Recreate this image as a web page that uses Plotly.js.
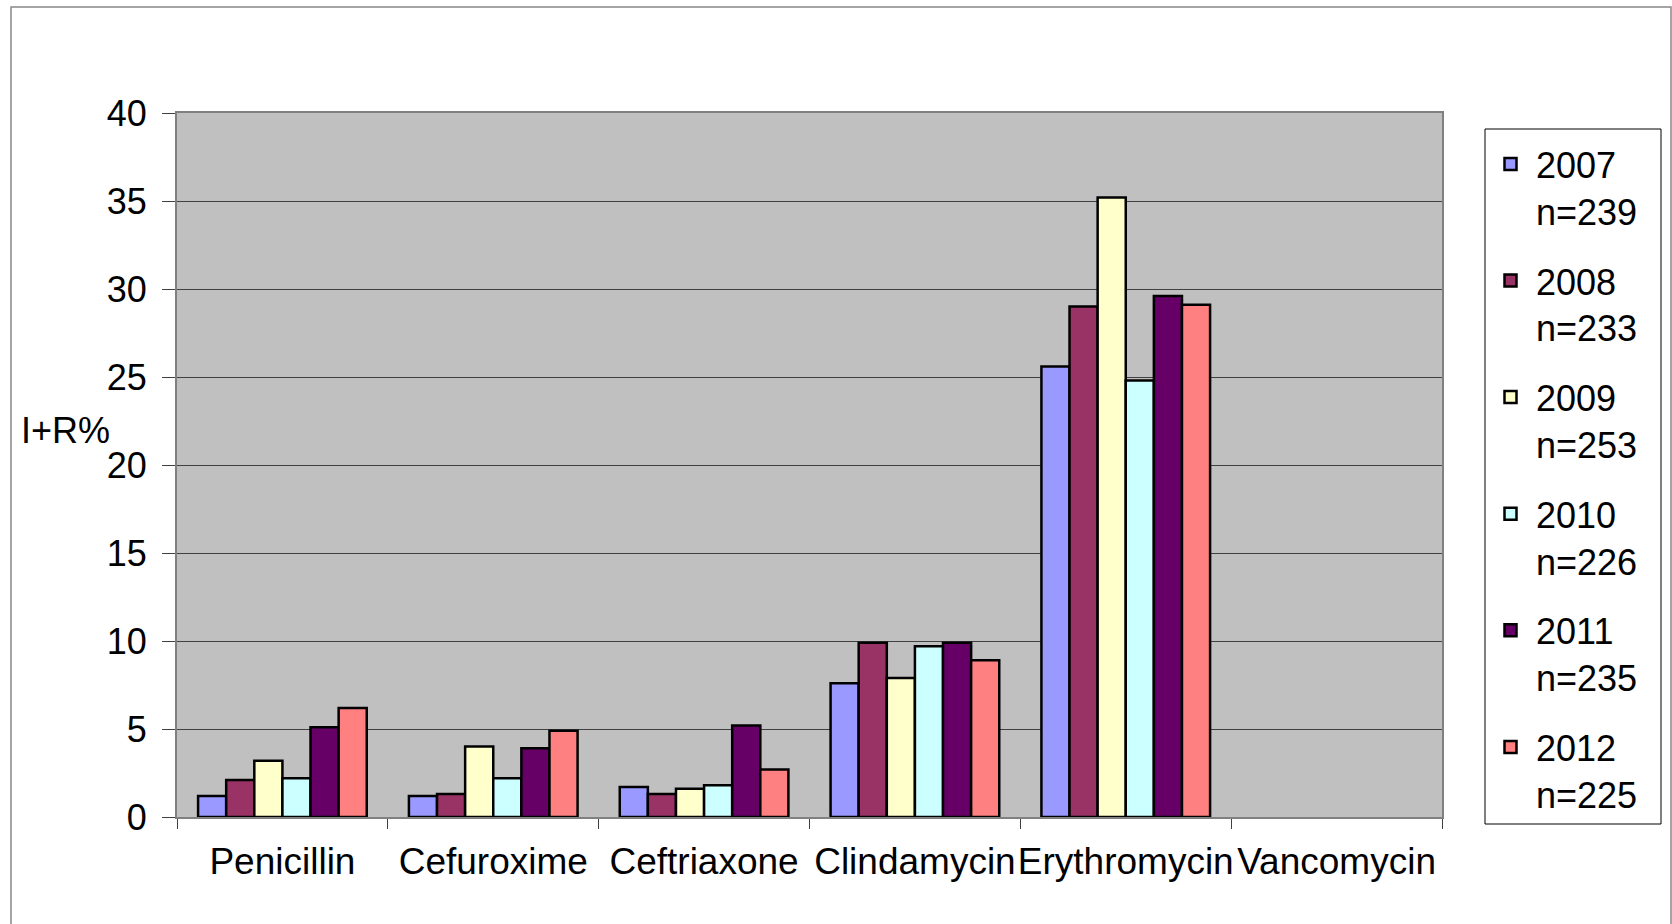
<!DOCTYPE html>
<html>
<head>
<meta charset="utf-8">
<script src="https://cdn.plot.ly/plotly-3.0.1.min.js"></script>
<style>
  html, body { margin: 0; padding: 0; background: #ffffff; }
  #chart { width: 1672px; height: 924px; }
</style>
</head>
<body>
<div id="chart"></div>
<script>
// Categories (antibiotics)
const categories = ["Penicillin", "Cefuroxime", "Ceftriaxone", "Clindamycin", "Erythromycin", "Vancomycin"];

// Series names (year + sample size)
const seriesNames = ["2007<br>n=239", "2008<br>n=233", "2009<br>n=253", "2010<br>n=226", "2011<br>n=235", "2012<br>n=225"];

// I+R% values per year
const y2007 = [1.2, 1.2, 1.7, 7.6, 25.6, 0];
const y2008 = [2.1, 1.3, 1.3, 9.9, 29.0, 0];
const y2009 = [3.2, 4.0, 1.6, 7.9, 35.2, 0];
const y2010 = [2.2, 2.2, 1.8, 9.7, 24.8, 0];
const y2011 = [5.1, 3.9, 5.2, 9.9, 29.6, 0];
const y2012 = [6.2, 4.9, 2.7, 8.9, 29.1, 0];

const seriesValues = [y2007, y2008, y2009, y2010, y2011, y2012];
const seriesColors = ["#9999FF", "#993366", "#FFFFCC", "#CCFFFF", "#660066", "#FF8080"];

// Y axis ticks
const yTicks = [0, 5, 10, 15, 20, 25, 30, 35, 40];

const FONT = "Liberation Sans, Arial, sans-serif";

const traces = seriesValues.map((vals, i) => ({
  type: "bar",
  name: seriesNames[i],
  x: categories,
  y: vals,
  legendgroup: "g" + i,
  marker: {
    color: seriesColors[i],
    line: { color: "#000000", width: vals.map(v => (v > 0 ? 2.5 : 0)) }
  },
  hoverinfo: "x+y"
}));

const L = 177, R = 1442, T = 113, B = 817;
const W = 1672, H = 924;
const pw = R - L, ph = B - T;
const px = v => (v - L) / pw;
const py = v => (B - v) / ph;

const layout = {
  width: W,
  height: H,
  margin: { l: L, r: W - R, t: T, b: H - B, pad: 0 },
  paper_bgcolor: "#ffffff",
  plot_bgcolor: "#C0C0C0",
  font: { family: FONT, size: 36, color: "#000000" },
  showlegend: true,
  barmode: "group",
  bargap: 0.2,
  bargroupgap: 0,
  xaxis: {
    type: "category",
    showgrid: false,
    tickson: "boundaries",
    ticks: "outside",
    ticklen: 10,
    tickwidth: 1,
    tickcolor: "#404040",
    tickangle: 0,
    showline: true,
    linecolor: "#808080",
    linewidth: 2,
    mirror: true,
    tickfont: { family: FONT, size: 37, color: "#000000" },
    ticklabelstandoff: 11,
    zeroline: false
  },
  yaxis: {
    range: [0, 40],
    tickvals: yTicks,
    ticktext: yTicks.map(String),
    showgrid: true,
    gridcolor: "#404040",
    gridwidth: 1,
    ticks: "outside",
    ticklen: 13,
    tickwidth: 1,
    tickcolor: "#404040",
    showline: true,
    linecolor: "#808080",
    linewidth: 2,
    mirror: true,
    zeroline: false,
    tickfont: { family: FONT, size: 36, color: "#000000" },
    ticklabelstandoff: 8
  },
  legend: {
    x: px(1485),
    y: py(134),
    xanchor: "left",
    yanchor: "top",
    bgcolor: "rgba(0,0,0,0)",
    borderwidth: 0,
    font: { family: FONT, size: 36, color: "#000000" },
    valign: "top",
    tracegroupgap: 20,
    itemwidth: 41,
    traceorder: "grouped"
  },
  annotations: [
    {
      text: "I+R%",
      xref: "paper", yref: "paper",
      x: px(19), y: py(430),
      xanchor: "left", yanchor: "middle",
      showarrow: false,
      font: { family: FONT, size: 36, color: "#000000" }
    }
  ],
  shapes: [
    {
      type: "rect",
      xref: "paper", yref: "paper",
      x0: px(11), x1: px(1671),
      y0: py(935), y1: py(7),
      line: { color: "#888888", width: 1.5 },
      fillcolor: "rgba(0,0,0,0)",
      layer: "below"
    },
    {
      type: "rect",
      xref: "paper", yref: "paper",
      x0: px(1485), x1: px(1661),
      y0: py(824), y1: py(129),
      line: { color: "#000000", width: 1 },
      fillcolor: "#ffffff",
      layer: "below"
    }
  ]
};

Plotly.newPlot("chart", traces, layout, { displayModeBar: false, staticPlot: true });
</script>
</body>
</html>
